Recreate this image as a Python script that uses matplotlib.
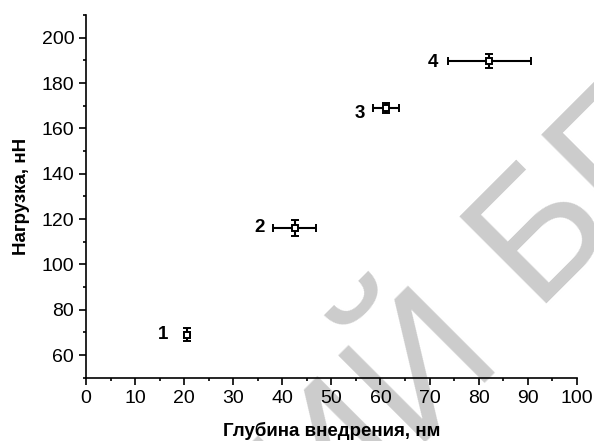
import matplotlib
matplotlib.use("Agg")
import matplotlib.pyplot as plt
from matplotlib.ticker import MultipleLocator

plt.rcParams['font.family'] = ['Liberation Sans', 'DejaVu Sans']

# data
depth = [20.5, 42.5, 61.1, 82.2]          # nm
depth_err = [0.6, 4.4, 2.7, 8.4]
load = [69.0, 116.2, 169.1, 189.7]        # nN
load_err = [2.9, 3.5, 2.2, 3.3]
labels = ['1', '2', '3', '4']
label_x = [15.7, 35.3, 55.8, 70.8]
label_y = [69.0, 116.2, 166.5, 189.0]

fig = plt.figure(figsize=(5.94, 4.41), dpi=100)
ax = fig.add_axes([0.1448, 0.1435, 0.8261, 0.8225])
ax.patch.set_alpha(0)

# watermark behind the plot
wm = dict(fontsize=128, color='#cccccc', rotation=45,
          rotation_mode='anchor', va='baseline', zorder=-5)
fig.text(0.845, 0.205, 'РЕПОЗИТОРИЙ', ha='right', **wm)
fig.text(0.895, 0.312, 'БГУ', ha='left', **wm)

ax.errorbar(depth, load, xerr=depth_err, yerr=load_err, fmt='s', color='black',
            mfc='white', mec='black', ms=4.2, mew=1.4, elinewidth=1.5,
            capsize=3, capthick=2, zorder=3)

for lx, ly, t in zip(label_x, label_y, labels):
    ax.text(lx, ly, t, fontsize=13.5, fontweight='bold', ha='center', va='center')

ax.set_xlim(0, 100)
ax.set_ylim(50, 210)
ax.xaxis.set_major_locator(MultipleLocator(10))
ax.xaxis.set_minor_locator(MultipleLocator(5))
ax.yaxis.set_minor_locator(MultipleLocator(10))
ax.set_yticks(range(60, 201, 20))

for s in ['top', 'right']:
    ax.spines[s].set_visible(False)
for s in ['left', 'bottom']:
    ax.spines[s].set_linewidth(1.2)
ax.tick_params(which='major', direction='out', length=5, width=1.2, labelsize=14, pad=3.5)
ax.tick_params(which='minor', direction='out', length=2.5, width=1.2)

ax.set_xlabel('Глубина внедрения, нм', fontsize=13.5, fontweight='bold', labelpad=11)
ax.set_ylabel('Нагрузка, нН', fontsize=13.5, fontweight='bold', labelpad=8)

fig.savefig('out.png', dpi=100)
